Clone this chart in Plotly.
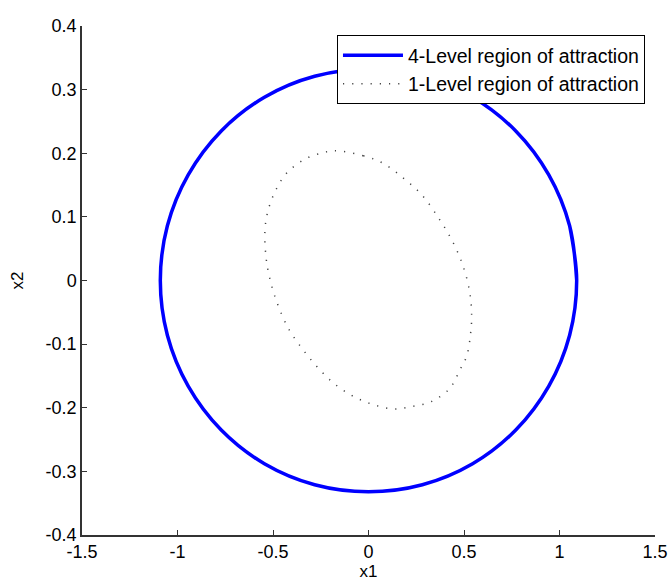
import plotly.graph_objects as go

# 4-Level region of attraction
x4 = [1.090, 1.053, 0.944, 0.771, 0.545, 0.282, 0.000, -0.282, -0.545, -0.771, -0.944, -1.053,
      -1.090, -1.053, -0.944, -0.771, -0.545, -0.282, 0.000, 0.282, 0.545, 0.771, 0.944, 1.053,
      1.090, 1.053]
y4 = [0.000, 0.086, 0.166, 0.235, 0.288, 0.321, 0.332, 0.321, 0.288, 0.235, 0.166, 0.086,
      0.000, -0.086, -0.166, -0.235, -0.288, -0.321, -0.332, -0.321, -0.288, -0.235, -0.166, -0.086,
      0.000, 0.086]

# 1-Level region of attraction
x1 = [-0.175, -0.027, 0.078, 0.182, 0.278, 0.374, 0.444, 0.496, 0.531, 0.540, 0.535, 0.514,
      0.479, 0.427, 0.331, 0.226, 0.130, 0.025, -0.080, -0.184, -0.271, -0.350, -0.420, -0.481,
      -0.519, -0.537, -0.542, -0.525, -0.484, -0.428, -0.332, -0.237, -0.175]
y1 = [0.204, 0.196, 0.184, 0.161, 0.135, 0.095, 0.059, 0.022, -0.020, -0.056, -0.082, -0.119,
      -0.140, -0.169, -0.190, -0.198, -0.202, -0.195, -0.182, -0.161, -0.135, -0.106, -0.075, -0.033,
      0.006, 0.038, 0.080, 0.111, 0.143, 0.169, 0.191, 0.201, 0.204]

xticks = [-1.5, -1, -0.5, 0, 0.5, 1, 1.5]
xticklabels = ["-1.5", "-1", "-0.5", "0", "0.5", "1", "1.5"]
yticks = [-0.4, -0.3, -0.2, -0.1, 0, 0.1, 0.2, 0.3, 0.4]
yticklabels = ["-0.4", "-0.3", "-0.2", "-0.1", "0", "0.1", "0.2", "0.3", "0.4"]

font = "Liberation Sans, Arial, sans-serif"

fig = go.Figure()
fig.add_trace(go.Scatter(
    x=x4, y=y4, mode="lines", name="4-Level region of attraction",
    line=dict(color="#0000ff", width=3.5, shape="spline", smoothing=1.0),
))
fig.add_trace(go.Scatter(
    x=x1, y=y1, mode="lines", name="1-Level region of attraction",
    line=dict(color="#444444", width=1.5, dash="1.2px,8px", shape="spline", smoothing=1.0),
))

fig.update_layout(
    width=671, height=586,
    margin=dict(l=82, r=16, t=26, b=51, autoexpand=False),
    paper_bgcolor="white", plot_bgcolor="white",
    font=dict(family=font, size=18, color="black"),
    showlegend=True,
    legend=dict(
        x=0.9825, y=0.982, xanchor="right", yanchor="top",
        bgcolor="white", bordercolor="black", borderwidth=1,
        font=dict(family=font, size=19.5, color="black"),
        itemwidth=60, tracegroupgap=0,
    ),
    xaxis=dict(
        range=[-1.5, 1.5], tickvals=xticks, ticktext=xticklabels,
        ticks="inside", ticklen=5, tickcolor="#333", tickwidth=1,
        showline=True, linecolor="#333", linewidth=1.5, mirror=False,
        showgrid=False, zeroline=False, automargin=False,
        tickfont=dict(family=font, size=18),
        title=dict(text="x1", font=dict(family=font, size=17), standoff=3),
    ),
    yaxis=dict(
        range=[-0.4, 0.4], tickvals=yticks, ticktext=yticklabels,
        ticks="inside", ticklen=5, tickcolor="#333", tickwidth=1,
        showline=True, linecolor="#333", linewidth=1.5, mirror=False,
        showgrid=False, zeroline=False, automargin=False,
        tickfont=dict(family=font, size=18),
        title=dict(text="x2", font=dict(family=font, size=17), standoff=18),
    ),
)

fig.write_html(
    "out.html",
    config={"displayModeBar": False},
    post_script="document.body.style.margin='0';document.body.style.overflow='hidden';",
)
